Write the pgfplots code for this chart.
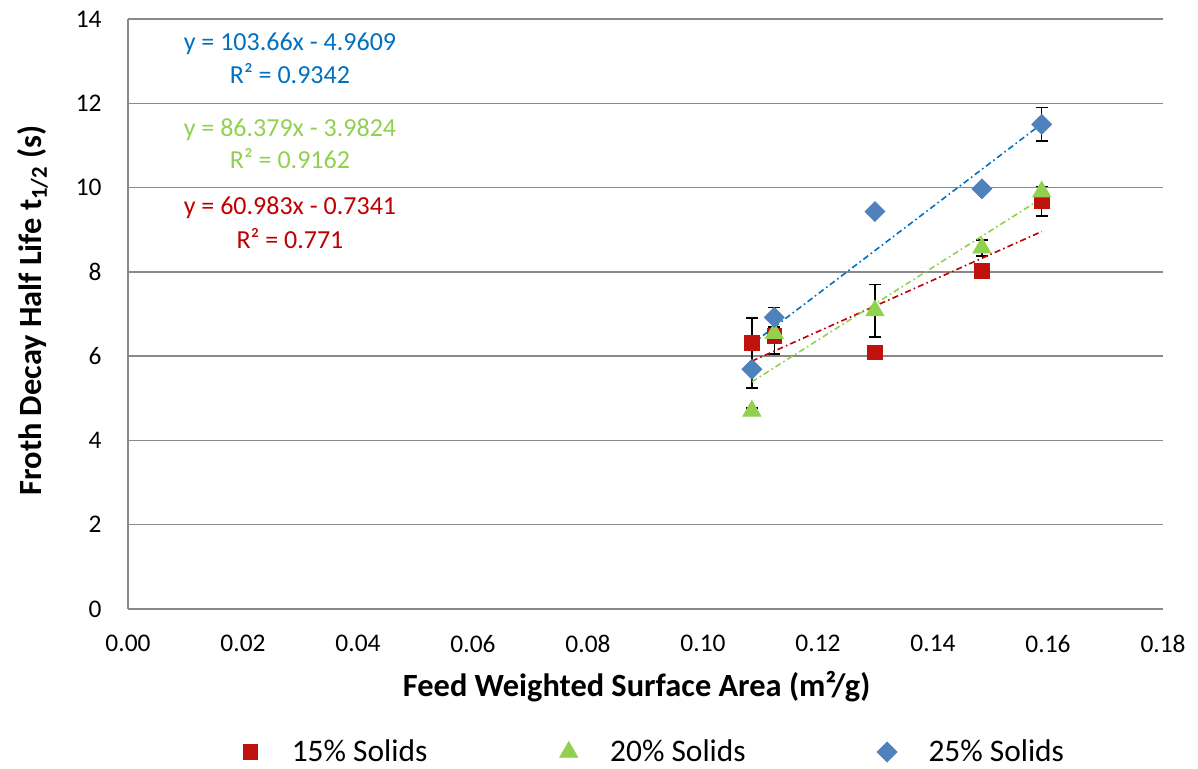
\documentclass[border=0pt]{standalone}
\usepackage{fontspec}
\setmainfont{Carlito}
\usepackage{pgfplots}
\pgfplotsset{compat=1.18}

\definecolor{redmk}{HTML}{C0120C}
\definecolor{greenmk}{HTML}{92D050}
\definecolor{bluemk}{HTML}{4F81BD}
\definecolor{redfit}{HTML}{C00000}
\definecolor{greenfit}{HTML}{92D050}
\definecolor{bluefit}{HTML}{0070C0}
\definecolor{gridgray}{HTML}{898989}

\begin{document}
\begin{tikzpicture}
\begin{axis}[
  scale only axis,
  width=517.5pt, height=295pt,
  xmin=0, xmax=0.18, ymin=0, ymax=14,
  xtick={0,0.02,0.04,0.06,0.08,0.10,0.12,0.14,0.16,0.18},
  ytick={0,2,4,6,8,10,12,14},
  /pgf/number format/assume math mode=true,
  xticklabel style={yshift=-13pt, /pgf/number format/fixed, /pgf/number format/fixed zerofill, /pgf/number format/precision=2},
  tick label style={font=\fontsize{12.7}{15}\selectfont, inner sep=0pt},
  yticklabel style={xshift=-13pt},
  major tick length=0pt,
  axis x line*=bottom, axis y line*=left,
  axis line style={draw=gridgray, line width=0.75pt, -},
  ymajorgrids,
  grid style={draw=gridgray, line width=0.75pt},
  xlabel={\bfseries Feed Weighted Surface Area (m²/g)},
  ylabel={\bfseries Froth Decay Half Life t\textsubscript{1/2} (s)},
  label style={font=\fontsize{16.2}{19}\selectfont},
  xlabel style={at={(axis description cs:0.4915,-0.1475)}, anchor=base},
  ylabel style={at={(axis description cs:-0.0834,0.506)}, anchor=base},
  legend columns=3,
  legend cell align=left,
  legend image code/.code={\path (-6pt,0pt) (6pt,0pt); \draw[#1] plot coordinates {(0pt,0pt)};},
  legend style={
    draw=none, fill=none, inner sep=0pt, outer sep=0pt,
    at={(axis description cs:0.1063,-0.2425)}, anchor=west,
    font=\fontsize{15.7}{18}\selectfont,
    nodes={inner sep=0pt},
    /tikz/every odd column/.append style={column sep=14.5pt},
    /tikz/every even column/.append style={column sep=64.5pt},
  },
  error bars/error bar style={black, line width=0.75pt},
  error bars/error mark options={black, rotate=90, mark size=3pt, line width=0.75pt},
]

% error bars (drawn beneath the markers)
\addplot[black, only marks, mark=none, forget plot,
  error bars/.cd, y dir=both, y explicit] coordinates {
  (0.1085,6.32) +- (0,0.58)
  (0.1124,6.48) +- (0,0.43)
  (0.1589,9.67) +- (0,0.35)
};
\addplot[black, only marks, mark=none, forget plot,
  error bars/.cd, y dir=both, y explicit] coordinates {
  (0.1085,4.70) +- (0,0.07)
  (0.1299,7.08) +- (0,0.62)
  (0.1485,8.57) +- (0,0.19)
};
\addplot[black, only marks, mark=none, forget plot,
  error bars/.cd, y dir=both, y explicit] coordinates {
  (0.1085,5.69) +- (0,0.45)
  (0.1124,6.92) +- (0,0.23)
  (0.1589,11.50) +- (0,0.40)
};

% linear trendlines over the range of the data
\addplot[redfit, line width=0.8pt, dash pattern=on 3pt off 1.6pt on 0.8pt off 1.6pt, forget plot]
  coordinates {(0.1085,5.8826) (0.1589,8.9561)};
\addplot[greenfit, line width=0.8pt, dash pattern=on 3pt off 1.6pt on 0.8pt off 1.6pt, forget plot]
  coordinates {(0.1085,5.3897) (0.1589,9.7432)};
\addplot[bluefit, line width=0.8pt, dash pattern=on 3pt off 1.6pt on 0.8pt off 1.6pt, forget plot]
  coordinates {(0.1085,6.2862) (0.1589,11.5107)};

% measured half lives
\addplot[only marks, mark=square*, mark size=3.67pt, draw=redmk, fill=redmk] coordinates {
  (0.1085,6.32) (0.1124,6.48) (0.1299,6.09) (0.1485,8.02) (0.1589,9.67)
};
\addlegendentry{15\% Solids}
\addplot[only marks, mark=triangle*, mark size=5.2pt, draw=greenmk, fill=greenmk] coordinates {
  (0.1085,4.70) (0.1124,6.54) (0.1299,7.08) (0.1485,8.57) (0.1589,9.90)
};
\addlegendentry{20\% Solids}
\addplot[only marks, mark=square*, mark options={rotate=45}, mark size=3.5pt, draw=bluemk, fill=bluemk] coordinates {
  (0.1085,5.69) (0.1124,6.92) (0.1299,9.43) (0.1485,9.97) (0.1589,11.50)
};
\addlegendentry{25\% Solids}

% trendline equations
\begin{scope}[font=\fontsize{13}{15}\selectfont]
\node[anchor=base, text=bluefit] at (axis cs:0.02817,13.25) {y = 103.66x - 4.9609};
\node[anchor=base, text=bluefit] at (axis cs:0.02817,12.46) {R² = 0.9342};
\node[anchor=base, text=greenfit] at (axis cs:0.02817,11.21) {y = 86.379x - 3.9824};
\node[anchor=base, text=greenfit] at (axis cs:0.02817,10.46) {R² = 0.9162};
\node[anchor=base, text=redfit] at (axis cs:0.02817,9.35) {y = 60.983x - 0.7341};
\node[anchor=base, text=redfit] at (axis cs:0.02817,8.56) {R² = 0.771};
\end{scope}
\end{axis}
\pgfresetboundingbox
\path (-64pt,-80pt) rectangle (535pt,304.5pt);
\end{tikzpicture}
\end{document}
